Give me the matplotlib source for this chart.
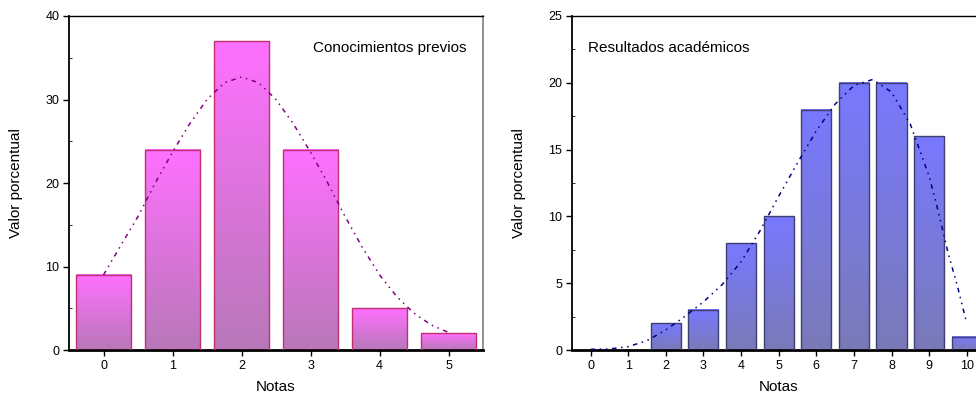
import numpy as np
import matplotlib
matplotlib.use('Agg')
from matplotlib import pyplot as plt
from matplotlib.colors import LinearSegmentedColormap
from matplotlib.ticker import MultipleLocator

plt.rcParams['font.family'] = ['Liberation Sans', 'DejaVu Sans']

# left panel: prior knowledge
notas_prev = [0, 1, 2, 3, 4, 5]
valores_prev = [9, 24, 37, 24, 5, 2]
curva_prev_x = [0, 0.25, 0.5, 0.75, 1.0, 1.25, 1.5, 1.75, 2.0, 2.25, 2.5,
                2.75, 3.0, 3.25, 3.5, 3.75, 4.0, 4.25, 4.5, 4.75, 5.0]
curva_prev_y = [9.0, 12.5, 16.0, 20.0, 23.7, 27.1, 30.0, 32.0, 32.7, 32.0, 30.0,
                27.1, 23.7, 20.0, 16.0, 12.3, 9.0, 6.4, 4.4, 3.0, 2.1]

# right panel: academic results
notas_res = [0, 1, 2, 3, 4, 5, 6, 7, 8, 9, 10]
valores_res = [0, 0, 2, 3, 8, 10, 18, 20, 20, 16, 1]
curva_res_x = [0, 0.5, 1.0, 1.5, 2.0, 2.5, 3.0, 3.5, 4.0, 4.5, 5.0, 5.5, 6.0,
               6.5, 7.0, 7.5, 8.0, 8.5, 9.0, 9.25, 9.5, 9.75, 10.0]
curva_res_y = [0.05, 0.08, 0.25, 0.7, 1.5, 2.5, 3.6, 4.9, 6.6, 8.9, 11.5, 14.0, 16.4,
               18.4, 19.8, 20.25, 19.3, 16.9, 13.0, 10.3, 7.3, 4.8, 2.0]


def gradient_bars(ax, x, h, top, bottom, edge, width=0.8):
    cmap = LinearSegmentedColormap.from_list('g', [bottom, top])
    grad = np.linspace(0, 1, 256).reshape(-1, 1)
    for xi, hi in zip(x, h):
        if hi <= 0:
            continue
        ax.imshow(grad, cmap=cmap, origin='lower', aspect='auto',
                  extent=[xi - width / 2, xi + width / 2, 0, hi], zorder=2)
        ax.bar(xi, hi, width=width, facecolor='none', edgecolor=edge,
               linewidth=1.0, zorder=3)


def style_axes(ax, ymax, ymajor, xmax, right_color='black'):
    ax.set_xlim(-0.5, xmax + 0.5)
    ax.set_ylim(0, ymax)
    ax.yaxis.set_major_locator(MultipleLocator(ymajor))
    ax.yaxis.set_minor_locator(MultipleLocator(ymajor / 2))
    ax.set_xticks(range(0, xmax + 1))
    ax.tick_params(axis='both', which='major', direction='out', length=4,
                   width=1, labelsize=9, pad=3)
    ax.tick_params(axis='y', which='minor', direction='in', length=2, width=0.6)
    ax.spines['bottom'].set_linewidth(2)
    ax.spines['left'].set_linewidth(1.3)
    ax.spines['top'].set_linewidth(1)
    ax.spines['right'].set_linewidth(1.3)
    ax.spines['right'].set_color(right_color)
    ax.set_xlabel('Notas', fontsize=11, labelpad=6)
    ax.set_ylabel('Valor porcentual', fontsize=11, labelpad=16)


fig = plt.figure(figsize=(9.76, 4.03), dpi=100)

ax1 = fig.add_axes([0.0707, 0.1315, 0.4242, 0.8288])
gradient_bars(ax1, notas_prev, valores_prev, '#ff70ff', '#b878b8', '#c03070')
ax1.plot(curva_prev_x, curva_prev_y, color='#800080', linewidth=1.1,
         dashes=(3, 3, 1, 3, 1, 3), zorder=4)
style_axes(ax1, 40, 10, 5, right_color='#888888')
ax1.text(0.96, 0.905, 'Conocimientos previos', transform=ax1.transAxes,
         ha='right', va='center', fontsize=11)

ax2 = fig.add_axes([0.5858, 0.1315, 0.424, 0.8288])
gradient_bars(ax2, notas_res, valores_res, '#7878ff', '#7a7ab8', '#404070')
ax2.plot(curva_res_x, curva_res_y, color='#000080', linewidth=1.1,
         dashes=(3, 3, 1, 3, 1, 3), zorder=4)
style_axes(ax2, 25, 5, 10)
ax2.text(0.04, 0.905, 'Resultados académicos', transform=ax2.transAxes,
         ha='left', va='center', fontsize=11)

fig.savefig('out.png', dpi=100)
